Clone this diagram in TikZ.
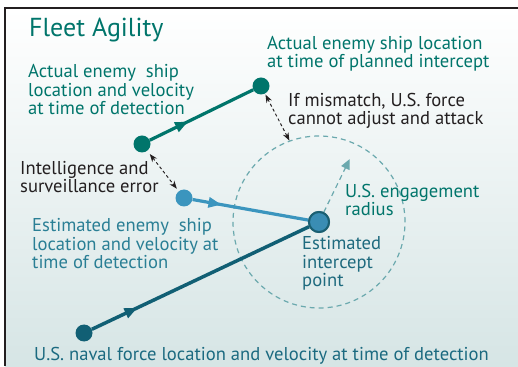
\documentclass[tikz,border=0pt]{standalone}
\usepackage{fontspec}
\setmainfont{PT Sans}
\usetikzlibrary{arrows.meta,decorations.markings,calc}

\definecolor{tealc}{HTML}{00756B}
\definecolor{estc}{HTML}{3B95BE}
\definecolor{usc}{HTML}{115F74}
\definecolor{esttxt}{HTML}{2A7F95}
\definecolor{iptxt}{HTML}{1E6A7E}
\definecolor{ustxt}{HTML}{1B6A80}
\definecolor{ringc}{HTML}{6BA9AE}
\definecolor{inkc}{HTML}{231F20}
\definecolor{bgbot}{HTML}{D6E5E5}
\definecolor{ipfill}{HTML}{3A8DB4}
\definecolor{ipedge}{HTML}{1A5F72}

\begin{document}
\begin{tikzpicture}[x=1pt,y=1pt,
  shipdot/.style={circle,inner sep=0pt,minimum size=17pt,fill=#1},
  track/.style={line width=3.2pt,draw=#1},
  midarrow/.style={postaction={decorate},
    decoration={markings,mark=at position #1 with {\arrow{Triangle[length=13pt,width=10pt]}}}},
  errarrow/.style={line width=0.95pt,draw=inkc,dash pattern=on 3pt off 2.5pt,
    {Stealth[length=8pt,width=6pt]}-{Stealth[length=8pt,width=6pt]}},
  lbl/.style={anchor=base west,align=left,inner sep=0pt,
    font=\fontsize{18.6}{18.5}\selectfont},
]
\useasboundingbox (0,0) rectangle (518,366);

% panel background and frame
\fill[top color=white,bottom color=bgbot] (5,0) rectangle (518,358);
\draw[line width=1.3pt,inkc] (5,0) -- (5,358) -- (518,358);

% ships and intercept point
\node[shipdot=tealc] (e1) at (142,222) {};
\node[shipdot=tealc] (e2) at (261,280) {};
\node[shipdot=estc] (est) at (184,168) {};
\node[shipdot=usc] (us) at (84,33) {};
\node[circle,inner sep=0pt,minimum size=20pt,fill=ipfill,draw=ipedge,line width=2pt] (ip) at (319,144) {};

% engagement radius ring
\node[circle,inner sep=0pt,minimum size=172pt,draw=ringc,line width=1.2pt,
  dash pattern=on 5pt off 4pt] (ring) at (ip.center) {};
\coordinate (rtip) at ($(ip.center)+(64:70)$);
\draw[ringc,line width=1.2pt,dash pattern=on 5pt off 4pt,-{Triangle[length=10pt,width=9pt]}]
  (ip) -- (rtip);

% tracks
\draw[track=tealc,midarrow=0.37] (e1) -- (e2);
\draw[track=estc,midarrow=0.25] (est) -- (ip);
\draw[track=usc,line width=3.5pt,midarrow=0.21] (us) -- (ip);
\node[circle,inner sep=0pt,minimum size=20pt,fill=ipfill,draw=ipedge,line width=2pt] at (ip.center) {};

% error arrows
\draw[errarrow,shorten <=4pt,shorten >=3pt] (e1) -- (est);
\draw[errarrow,shorten <=1pt] (e2) -- (ring.110);

% labels (anchored at the baseline of their last line)
\node[anchor=base west,inner sep=0pt,tealc,font=\fontsize{26}{30}\selectfont] (title) at (29,329) {Fleet Agility};
\node[lbl,tealc] (t1) at (28,251) {Actual enemy\ \ ship\\location and velocity\\at time of detection};
\node[lbl,tealc] (t2) at (267,298) {Actual enemy ship location\\at time of planned intercept};
\node[lbl,inkc] (t3) at (288,241) {If mismatch, U.S. force\\cannot adjust and attack};
\node[lbl,inkc] (t4) at (20,173) {Intelligence and\\surveillance error};
\node[lbl,esttxt] (t5) at (32,97) {Estimated enemy\ \ ship\\location and velocity at\\time of detection};
\node[lbl,tealc] (t6) at (345,150) {U.S. engagement\\radius};
\node[lbl,iptxt] (t7) at (302,79) {Estimated\\intercept\\point};
\node[lbl,ustxt] (t8) at (34,6) {U.S. naval force location and velocity at time of detection};
\end{tikzpicture}
\end{document}
